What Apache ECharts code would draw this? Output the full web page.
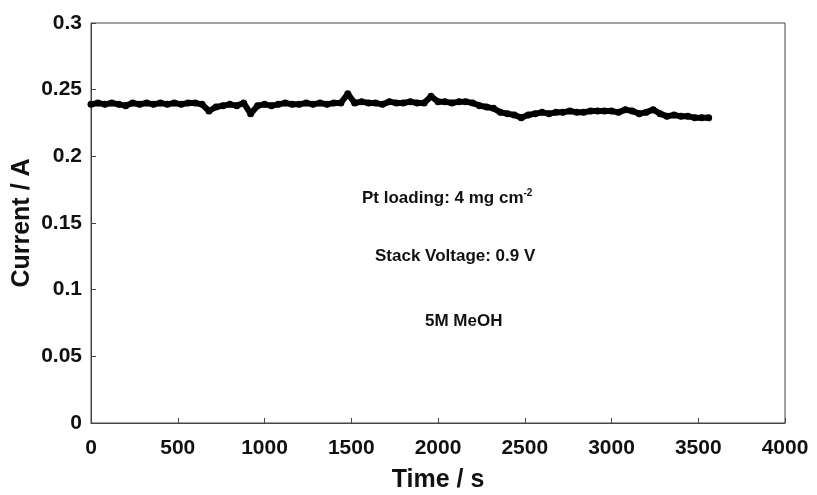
<!DOCTYPE html>
<html>
<head>
<meta charset="utf-8">
<script src="https://cdn.jsdelivr.net/npm/echarts@6/dist/echarts.min.js"></script>
<style>
  html, body { margin: 0; padding: 0; background: #fff; }
  #chart { width: 817px; height: 495px; }
</style>
</head>
<body>
<div id="chart"></div>
<script>
// time in s, current in A
const timeS = [
  0, 40, 80, 120, 160, 200, 240, 280, 320, 360,
  400, 440, 480, 520, 560, 600, 640, 680, 720, 760,
  800, 840, 880, 920, 960, 1000, 1040, 1080, 1120, 1160,
  1200, 1240, 1280, 1320, 1360, 1400, 1440, 1480, 1520, 1560,
  1600, 1640, 1680, 1720, 1760, 1800, 1840, 1880, 1920, 1960,
  2000, 2040, 2080, 2120, 2160, 2200, 2240, 2280, 2320, 2360,
  2400, 2440, 2480, 2520, 2560, 2600, 2640, 2680, 2720, 2760,
  2800, 2840, 2880, 2920, 2960, 3000, 3040, 3080, 3120, 3160,
  3200, 3240, 3280, 3320, 3360, 3400, 3440, 3480, 3520, 3560
];
const currentA = [
  0.239, 0.240, 0.239, 0.240, 0.239, 0.238, 0.240, 0.239, 0.240, 0.239,
  0.240, 0.239, 0.240, 0.239, 0.240, 0.240, 0.239, 0.234, 0.237, 0.238,
  0.239, 0.238, 0.240, 0.232, 0.238, 0.239, 0.238, 0.239, 0.240, 0.239,
  0.239, 0.240, 0.239, 0.240, 0.239, 0.240, 0.240, 0.247, 0.240, 0.241,
  0.240, 0.240, 0.239, 0.241, 0.240, 0.240, 0.241, 0.240, 0.240, 0.245,
  0.241, 0.241, 0.240, 0.241, 0.241, 0.240, 0.238, 0.237, 0.236, 0.233,
  0.232, 0.231, 0.229, 0.231, 0.232, 0.233, 0.232, 0.233, 0.233, 0.234,
  0.233, 0.233, 0.234, 0.234, 0.234, 0.234, 0.233, 0.235, 0.234, 0.232,
  0.233, 0.235, 0.232, 0.230, 0.231, 0.230, 0.230, 0.229, 0.229, 0.229
];
const notes = ['Stack Voltage: 0.9 V', '5M MeOH'];

const font = 'Liberation Sans, Arial, sans-serif';
const chart = echarts.init(document.getElementById('chart'));

chart.setOption({
  backgroundColor: '#ffffff',
  animation: false,
  grid: {
    left: 91, right: 32, top: 23, bottom: 72,
    outerBoundsMode: 'none',
    show: true, borderColor: '#444', borderWidth: 1
  },
  xAxis: {
    type: 'value',
    min: 0, max: 4000, interval: 500,
    name: 'Time / s',
    nameLocation: 'middle',
    nameGap: 45,
    nameMoveOverlap: false,
    nameTextStyle: { fontFamily: font, fontWeight: 'bold', fontSize: 25, color: '#111' },
    axisLine: { lineStyle: { color: '#444', width: 1 } },
    axisTick: { inside: true, length: 5, lineStyle: { color: '#444' } },
    axisLabel: {
      fontFamily: font, fontWeight: 'bold', fontSize: 21, color: '#111', margin: 15,
      formatter: (v) => String(v)
    },
    splitLine: { show: false }
  },
  yAxis: {
    type: 'value',
    min: 0, max: 0.3, interval: 0.05,
    name: 'Current / A',
    nameLocation: 'middle',
    nameGap: 56,
    nameMoveOverlap: false,
    nameTextStyle: { fontFamily: font, fontWeight: 'bold', fontSize: 25, color: '#111' },
    axisLine: { lineStyle: { color: '#444', width: 1 } },
    axisTick: { inside: true, length: 5, lineStyle: { color: '#444' } },
    axisLabel: { fontFamily: font, fontWeight: 'bold', fontSize: 21, color: '#111', margin: 9 },
    splitLine: { show: false }
  },
  series: [{
    type: 'line',
    data: timeS.map((t, i) => [t, currentA[i]]),
    symbol: 'circle',
    symbolSize: 7,
    showSymbol: true,
    itemStyle: { color: '#000' },
    lineStyle: { color: '#000', width: 6 }
  }],
  graphic: [
    {
      type: 'text', left: 362, top: 188,
      style: {
        text: '{t|Pt loading: 4 mg cm}{s|-2}',
        rich: {
          t: { fontFamily: font, fontWeight: 'bold', fontSize: 17, fill: '#111' },
          s: { fontFamily: font, fontWeight: 'bold', fontSize: 10, fill: '#111', verticalAlign: 'top', padding: [0, 0, 10, 0] }
        }
      }
    },
    {
      type: 'text', left: 375, top: 248,
      style: { text: notes[0], fontFamily: font, fontWeight: 'bold', fontSize: 17, fill: '#111' }
    },
    {
      type: 'text', left: 425, top: 313,
      style: { text: notes[1], fontFamily: font, fontWeight: 'bold', fontSize: 17, fill: '#111' }
    }
  ]
});
</script>
</body>
</html>
